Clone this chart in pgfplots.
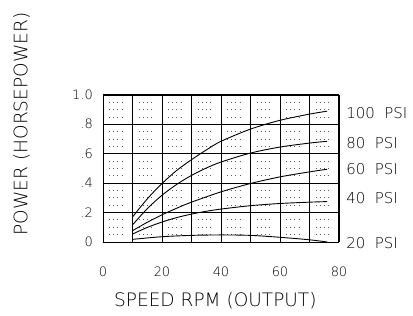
\documentclass[border=0pt]{standalone}
\usepackage{fontspec}
\setmainfont{DejaVu Sans ExtraLight}
\usepackage{pgfplots}
\pgfplotsset{compat=1.18}
\begin{document}
\begin{tikzpicture}
\path[use as bounding box] (0,0) rectangle (413bp,316bp);
\clip (0,0) rectangle (413bp,316bp);
\begin{axis}[
  at={(103bp,74bp)}, anchor=south west,
  scale only axis, width=236bp, height=147bp,
  xmin=0, xmax=80, ymin=0, ymax=1,
  xtick={0,10,...,80}, xticklabels={0,,20,,40,,60,,80},
  ytick={0,0.2,0.4,0.6,0.8,1.0}, yticklabels={0,.2,.4,.6,.8,1.0},
  minor y tick num=3,
  major tick length=0pt, minor tick length=0pt,
  grid=both,
  major grid style={black, line width=0.9bp},
  minor grid style={black!65, line width=0.9bp,
    dash pattern=on 0.9bp off 3.3bp on 0.9bp off 3.3bp on 0.9bp off 3.3bp on 0.9bp off 16bp,
    dash phase=23.5bp},
  axis line style={black, line width=1bp},
  tick label style={font=\fontsize{13}{14}\selectfont, inner sep=0pt},
  xticklabel style={anchor=base, yshift=-34.5bp},
  yticklabel style={anchor=base east, xshift=-10bp, yshift=-4.6bp},
  extra y ticks={0.2}, extra y tick labels={},
  extra y tick style={major grid style={black, line width=1.8bp}},
  xlabel={SPEED RPM (OUTPUT)},
  xlabel style={at={(axis description cs:0.476,-0.44)}, anchor=base,
    font=\fontsize{18.6}{20}\selectfont, inner sep=0pt},
  ylabel={POWER (HORSEPOWER)},
  ylabel style={at={(axis description cs:-0.345,0.803)}, anchor=center,
    font=\fontsize{18.6}{20}\selectfont, inner sep=0pt},
  title={SPEED RPM (OUTPUT)},
  title style={at={(axis description cs:0.453,1.628)}, anchor=base,
    font=\fontsize{18.6}{20}\selectfont, inner sep=0pt},
  clip=false,
]
% 100 PSI
\addplot[black, line width=0.9bp, smooth, no marks] coordinates {(10,0.17) (15,0.293) (20,0.398) (25,0.487) (30,0.56) (35,0.626) (40,0.685) (50,0.768) (60,0.828) (70,0.87) (76,0.89)};
% 80 PSI
\addplot[black, line width=0.9bp, smooth, no marks] coordinates {(10,0.116) (15,0.227) (20,0.318) (25,0.392) (30,0.453) (35,0.503) (40,0.544) (50,0.605) (60,0.646) (70,0.673) (76,0.685)};
% 60 PSI
\addplot[black, line width=0.9bp, smooth, no marks] coordinates {(10,0.077) (15,0.134) (20,0.185) (25,0.23) (30,0.271) (40,0.341) (50,0.398) (60,0.443) (70,0.477) (76,0.495)};
% 40 PSI
\addplot[black, line width=0.9bp, smooth, no marks] coordinates {(10,0.054) (15,0.099) (20,0.136) (25,0.166) (30,0.19) (35,0.209) (40,0.224) (50,0.247) (60,0.262) (70,0.271) (76,0.275)};
% 20 PSI
\addplot[black, line width=0.9bp, smooth, no marks] coordinates {(10,0.018) (20,0.036) (30,0.045) (40,0.048) (50,0.045) (60,0.032) (70,0.015) (76,0.0)};
\begin{scope}[every node/.style={anchor=west, inner sep=0pt, font=\fontsize{15}{16}\selectfont}]
\node at (axis cs:82.4,0.878) {100~~PSI};
\node at (axis cs:82.4,0.673) {80~~PSI};
\node at (axis cs:82.4,0.497) {60~~PSI};
\node at (axis cs:82.4,0.299) {40~~PSI};
\node at (axis cs:82.4,-0.007) {20~~PSI};
\end{scope}
\end{axis}
\end{tikzpicture}
\end{document}
